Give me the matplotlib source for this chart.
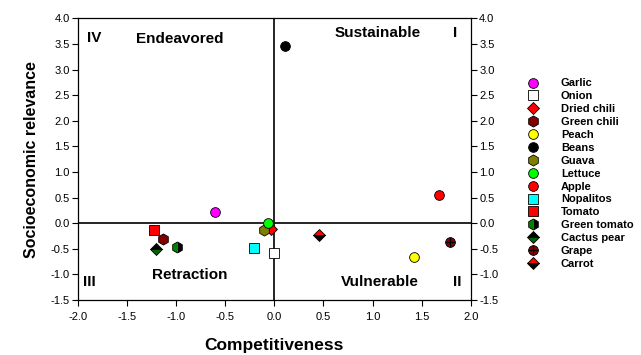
import matplotlib
matplotlib.use("Agg")
import matplotlib.pyplot as plt
from matplotlib.legend_handler import HandlerTuple

plt.rcParams['font.family'] = ['Liberation Sans', 'DejaVu Sans']

# data
crops = ["Garlic", "Onion", "Dried chili", "Green chili", "Peach", "Beans", "Guava",
         "Lettuce", "Apple", "Nopalitos", "Tomato", "Green tomato", "Cactus pear",
         "Grape", "Carrot"]
competitiveness = [-0.60, 0.00, -0.03, -1.13, 1.42, 0.11, -0.11,
                   -0.06, 1.68, -0.21, -1.23, -0.99, -1.20, 1.79, 0.45]
relevance = [0.21, -0.59, -0.12, -0.30, -0.66, 3.46, -0.13,
             0.00, 0.55, -0.49, -0.13, -0.46, -0.51, -0.37, -0.23]

# marker, face, alt face (for half filled), fill style
styles = [
    ("o", "#FF00FF", None, "full"),
    ("s", "white", None, "full"),
    ("D", "#FF0000", None, "full"),
    ("h", "#800000", None, "full"),
    ("o", "#FFFF00", None, "full"),
    ("o", "black", None, "full"),
    ("h", "#808000", None, "full"),
    ("o", "#00FF00", None, "full"),
    ("o", "#FF0000", None, "full"),
    ("s", "#00FFFF", None, "full"),
    ("s", "#FF0000", None, "full"),
    ("h", "#008000", "black", "left"),
    ("D", "black", "#006400", "top"),
    ("o", "#800000", None, "full"),
    ("D", "#FF0000", "black", "top"),
]
# matplotlib marker shapes differ in visual size
msize = {"o": 7, "s": 7, "D": 6.5, "h": 8}

quad_text = [("IV", -1.83, 3.61), ("Endeavored", -0.96, 3.59),
             ("Sustainable", 1.05, 3.71), ("I", 1.84, 3.71),
             ("III", -1.88, -1.15), ("Retraction", -0.86, -1.02),
             ("Vulnerable", 1.07, -1.15), ("II", 1.86, -1.15)]

fig = plt.figure(figsize=(6.41, 3.55), dpi=100)
ax = fig.add_axes([0.1215, 0.155, 0.613, 0.793])

ax.axhline(0, color="black", lw=1.2, zorder=1)
ax.axvline(0, color="black", lw=1.2, zorder=1)

handles = []
for i, name in enumerate(crops):
    m, fc, alt, fs = styles[i]
    kw = dict(marker=m, markersize=msize[m], markerfacecolor=fc, markeredgecolor="black",
              markeredgewidth=0.6, linestyle="none", fillstyle=fs, zorder=3)
    if alt is not None:
        kw["markerfacecoloralt"] = alt
    h, = ax.plot(competitiveness[i], relevance[i], **kw)
    if name == "Grape":
        h2, = ax.plot(competitiveness[i], relevance[i], marker="+", markersize=7,
                      color="black", markeredgewidth=0.8, linestyle="none", zorder=4)
        handles.append((h, h2))
    else:
        handles.append(h)

for txt, x, y in quad_text:
    ax.text(x, y, txt, ha="center", va="center", fontsize=11, fontweight="bold")

ax.set_xlim(-2.0, 2.0)
ax.set_ylim(-1.5, 4.0)
ax.set_xticks([-2.0, -1.5, -1.0, -0.5, 0.0, 0.5, 1.0, 1.5, 2.0])
ax.set_yticks([-1.5, -1.0, -0.5, 0.0, 0.5, 1.0, 1.5, 2.0, 2.5, 3.0, 3.5, 4.0])
ax.xaxis.set_major_formatter(matplotlib.ticker.FormatStrFormatter("%.1f"))
ax.yaxis.set_major_formatter(matplotlib.ticker.FormatStrFormatter("%.1f"))
ax.tick_params(axis="both", direction="out", length=4, width=0.8, labelsize=8, pad=2)
ax.tick_params(axis="x", pad=5)
ax.tick_params(axis="y", right=True, labelright=True)
for s in ax.spines.values():
    s.set_linewidth(0.9)

ax.set_xlabel("Competitiveness", fontsize=12.5, fontweight="bold", labelpad=11)
ax.set_ylabel("Socioeconomic relevance", fontsize=11.5, fontweight="bold", labelpad=8)

leg = fig.legend(handles, crops, loc="upper left", bbox_to_anchor=(0.823, 0.779),
                 frameon=False, handlelength=1.0, handletextpad=2.0,
                 labelspacing=0.26, borderaxespad=0, borderpad=0,
                 handler_map={tuple: HandlerTuple(ndivide=1)},
                 prop={"weight": "bold", "size": 8})

fig.savefig("out.png", dpi=100)
